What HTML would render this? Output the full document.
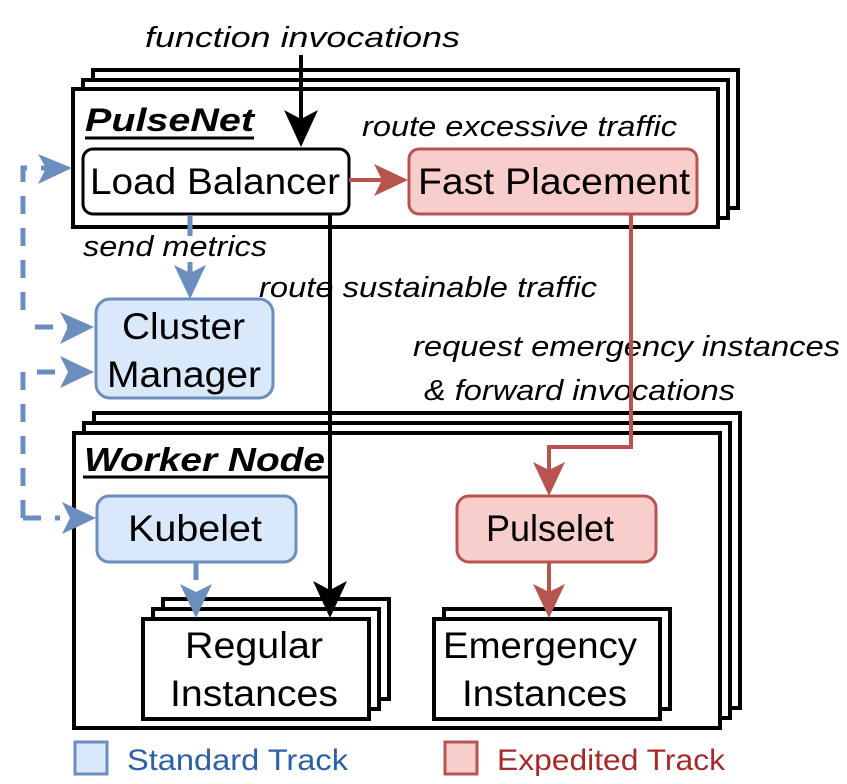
<!DOCTYPE html>
<html><head><meta charset="utf-8"><style>
html,body{margin:0;padding:0;background:#fff}
svg{display:block}
text{font-family:"Liberation Sans",sans-serif}
.it{font-style:italic;font-size:29px}
.n{font-size:37px}
</style></head><body>
<svg width="847" height="784" viewBox="0 0 847 784" xmlns="http://www.w3.org/2000/svg">
<g fill="#fff" stroke="#000" stroke-width="4">
<rect x="93" y="70" width="645" height="138"/>
<rect x="83" y="80" width="645" height="138"/>
<rect x="73" y="89" width="645" height="138"/>
</g>
<text x="85" y="131" font-size="32" font-weight="bold" font-style="italic" textLength="169" lengthAdjust="spacingAndGlyphs">PulseNet</text>
<line x1="85" y1="138" x2="254" y2="138" stroke="#000" stroke-width="3"/>
<text x="362" y="136" class="it" textLength="315" lengthAdjust="spacingAndGlyphs">route excessive traffic</text>
<g fill="#fff" stroke="#000" stroke-width="4">
<rect x="94" y="413" width="646" height="295"/>
<rect x="84" y="423" width="646" height="295"/>
<rect x="74" y="433" width="646" height="295"/>
</g>
<text x="84" y="471" font-size="33" font-weight="bold" font-style="italic" textLength="241" lengthAdjust="spacingAndGlyphs">Worker Node</text>
<line x1="83" y1="477" x2="328" y2="477" stroke="#000" stroke-width="3"/>
<rect x="83" y="149" width="266" height="65" rx="10" fill="#fff" stroke="#000" stroke-width="3"/>
<text x="90" y="194" class="n" textLength="250" lengthAdjust="spacingAndGlyphs">Load Balancer</text>
<rect x="409" y="149" width="288" height="65" rx="10" fill="#f8cecc" stroke="#b85450" stroke-width="3"/>
<text x="418" y="194" class="n" textLength="272" lengthAdjust="spacingAndGlyphs">Fast Placement</text>
<rect x="96" y="299" width="177" height="99" rx="14" fill="#dae8fc" stroke="#6c8ebf" stroke-width="3"/>
<text x="122" y="339" class="n" textLength="123" lengthAdjust="spacingAndGlyphs">Cluster</text>
<text x="107" y="387" class="n" textLength="154" lengthAdjust="spacingAndGlyphs">Manager</text>
<rect x="97" y="496" width="199" height="66" rx="12" fill="#dae8fc" stroke="#6c8ebf" stroke-width="3"/>
<text x="128" y="541" class="n" textLength="134" lengthAdjust="spacingAndGlyphs">Kubelet</text>
<rect x="457" y="496" width="199" height="66" rx="12" fill="#f8cecc" stroke="#b85450" stroke-width="3"/>
<text x="486" y="541" class="n" textLength="128" lengthAdjust="spacingAndGlyphs">Pulselet</text>
<g fill="#fff" stroke="#000" stroke-width="4">
<rect x="163" y="599" width="226" height="100"/>
<rect x="153" y="609" width="226" height="100"/>
<rect x="143" y="619" width="226" height="100"/>
<rect x="444" y="609" width="226" height="100"/>
<rect x="434" y="619" width="226" height="100"/>
</g>
<text x="185" y="658" class="n" textLength="138" lengthAdjust="spacingAndGlyphs">Regular</text>
<text x="170" y="706" class="n" textLength="168" lengthAdjust="spacingAndGlyphs">Instances</text>
<text x="443" y="658" class="n" textLength="194" lengthAdjust="spacingAndGlyphs">Emergency</text>
<text x="462" y="706" class="n" textLength="165" lengthAdjust="spacingAndGlyphs">Instances</text>
<rect x="140" y="15" width="325" height="40" fill="#fff"/>
<text x="145" y="47" class="it" textLength="315" lengthAdjust="spacingAndGlyphs">function invocations</text>
<text x="83" y="256" class="it" font-size="26" textLength="184" lengthAdjust="spacingAndGlyphs">send metrics</text>
<text x="259" y="297" class="it" textLength="338" lengthAdjust="spacingAndGlyphs">route sustainable traffic</text>
<text x="413" y="356" class="it" textLength="427" lengthAdjust="spacingAndGlyphs">request emergency instances</text>
<text x="424" y="400" class="it" textLength="311" lengthAdjust="spacingAndGlyphs">&amp; forward invocations</text>
<line x1="301" y1="55" x2="301" y2="125" stroke="#000" stroke-width="4"/>
<path d="M284,110 L301,147 L318,110 L301,119z" fill="#000"/>
<line x1="330" y1="214" x2="330" y2="596" stroke="#000" stroke-width="4"/>
<path d="M313,581 L330,618 L347,581 L330,590z" fill="#000"/>
<g stroke="#b85450" stroke-width="4" fill="none">
<line x1="349" y1="180" x2="390" y2="180"/>
<polyline points="631,214 631,447 549,447 549,475"/>
<line x1="549" y1="562" x2="549" y2="598"/>
</g>
<g fill="#b85450">
<path d="M374,164 L408,180 L374,196 L382,180z"/>
<path d="M533,462 L549,496 L565,462 L549,470z"/>
<path d="M533,584 L549,618 L565,584 L549,592z"/>
</g>
<g stroke="#6c8ebf" stroke-width="5" fill="none">
<line x1="190" y1="215" x2="190" y2="236"/>
<line x1="190" y1="262" x2="190" y2="280"/>
<line x1="196" y1="563" x2="196" y2="580"/>
<g stroke-dasharray="18,14">
<polyline points="23,310 23,168 60,168"/>
<polyline points="35,327 72,327"/>
<polyline points="23,518 23,372 70,372"/>
<polyline points="23,518 60,518"/>
</g>
</g>
<g fill="#6c8ebf">
<path d="M38,154 L72,168 L38,184 L46,168z"/>
<path d="M174,265 L190,299 L206,265 L190,273z"/>
<path d="M60,312 L94,327 L60,344 L68,327z"/>
<path d="M60,356 L94,372 L60,388 L68,372z"/>
<path d="M62,502 L96,518 L62,534 L70,518z"/>
<path d="M180,584 L196,618 L212,584 L196,592z"/>
</g>
<rect x="75" y="742" width="32" height="32" fill="#dae8fc" stroke="#6c8ebf" stroke-width="3"/>
<text x="127" y="770" font-size="30" fill="#2b5fa8" textLength="221" lengthAdjust="spacingAndGlyphs">Standard Track</text>
<rect x="445" y="742" width="32" height="32" fill="#f8cecc" stroke="#b85450" stroke-width="3"/>
<text x="497" y="770" font-size="30" fill="#a52a2a" textLength="228" lengthAdjust="spacingAndGlyphs">Expedited Track</text>
</svg>
</body></html>
